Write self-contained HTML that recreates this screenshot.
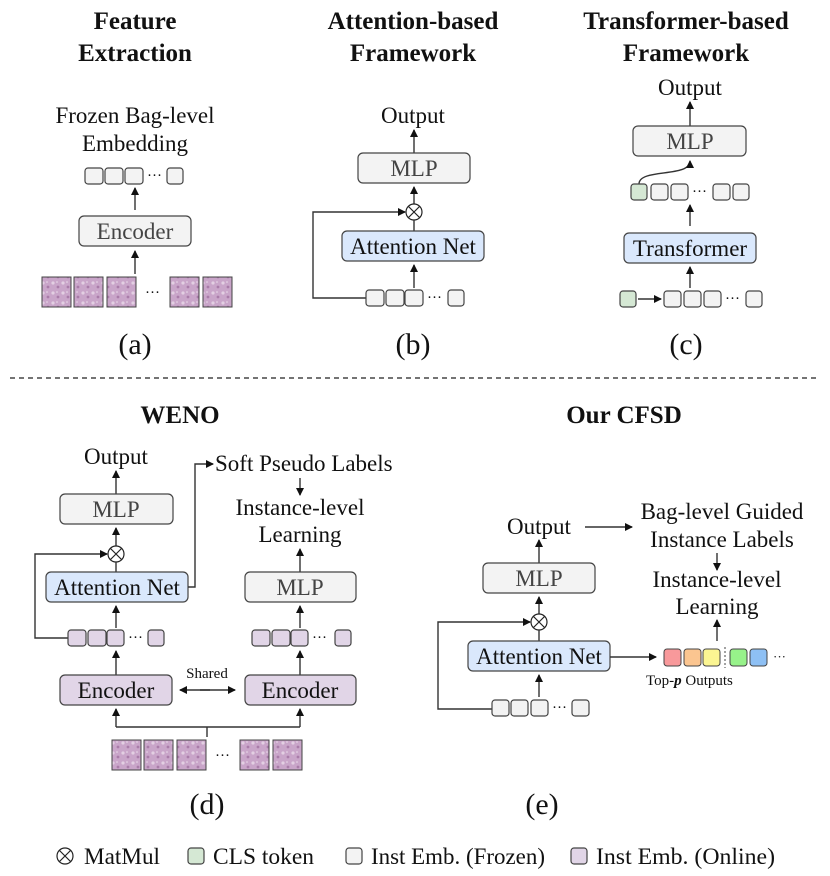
<!DOCTYPE html>
<html><head><meta charset="utf-8"><style>
html,body{margin:0;padding:0;background:#fff;}
svg{display:block;}
svg text{font-family:"Liberation Serif","Times New Roman",Times,"DejaVu Serif",serif;fill:#111;}
.t{font-weight:bold;font-size:25px;text-anchor:middle;}
.l{font-size:23px;text-anchor:middle;}
.bx{font-size:23px;text-anchor:middle;fill:#444;}
.g{fill:#f3f3f3;stroke:#444;stroke-width:1.2;}
.bl{fill:#dae8fc;stroke:#444;stroke-width:1.2;}
.pu{fill:#e1d5e7;stroke:#444;stroke-width:1.2;}
.gr{fill:#d5e8d4;stroke:#444;stroke-width:1.2;}
.ln{stroke:#333;stroke-width:1.4;fill:none;}
.img{stroke:#444;stroke-width:1;}
</style></head><body>
<svg width="830" height="876" viewBox="0 0 830 876" xmlns="http://www.w3.org/2000/svg">
<defs>
<marker id="a" markerWidth="8" markerHeight="8" refX="7" refY="4" orient="auto" markerUnits="userSpaceOnUse"><path d="M0,0 L8,4 L0,8 z" fill="#111"/></marker>
<pattern id="tis" width="10" height="10" patternUnits="userSpaceOnUse"><rect width="10" height="10" fill="#c9a5c9"/><circle cx="3" cy="3" r="1.6" fill="#e3cfe3"/><circle cx="8" cy="7" r="1.4" fill="#a97ca9"/><circle cx="7" cy="2" r="0.8" fill="#eadcea"/></pattern>
</defs>

<!-- (a) -->
<text class="t" x="135" y="29">Feature</text>
<text class="t" x="135" y="61">Extraction</text>
<text class="l" x="135" y="123">Frozen Bag-level</text>
<text class="l" x="135" y="151">Embedding</text>
<rect class="g" x="85" y="168" width="18" height="16" rx="3"/>
<rect class="g" x="105" y="168" width="18" height="16" rx="3"/>
<rect class="g" x="125" y="168" width="18" height="16" rx="3"/>
<text x="147" y="180" font-size="15">···</text>
<rect class="g" x="167" y="168" width="16" height="16" rx="3"/>
<line class="ln" x1="135" y1="210" x2="135" y2="188" marker-end="url(#a)"/>
<rect class="g" x="79" y="216" width="112" height="30" rx="5"/>
<text class="bx" x="135" y="239">Encoder</text>
<line class="ln" x1="135" y1="274" x2="135" y2="251" marker-end="url(#a)"/>
<g class="img">
<rect x="42" y="277" width="29" height="30" fill="url(#tis)"/><rect x="74" y="277" width="29" height="30" fill="url(#tis)"/><rect x="107" y="277" width="29" height="30" fill="url(#tis)"/><rect x="170" y="277" width="29" height="30" fill="url(#tis)"/><rect x="203" y="277" width="29" height="30" fill="url(#tis)"/>
</g>
<text x="145" y="297" font-size="15">···</text>
<text class="l" x="135" y="354" style="font-size:30px">(a)</text>

<!-- (b) -->
<text class="t" x="413" y="29">Attention-based</text>
<text class="t" x="413" y="61">Framework</text>
<text class="l" x="413" y="123">Output</text>
<line class="ln" x1="414" y1="153" x2="414" y2="130" marker-end="url(#a)"/>
<rect class="g" x="358" y="153" width="112" height="30" rx="5"/>
<text class="bx" x="414" y="176">MLP</text>
<line class="ln" x1="414" y1="204" x2="414" y2="187" marker-end="url(#a)"/>
<circle cx="414" cy="212" r="8" fill="#fff" stroke="#222" stroke-width="1.2"/>
<path d="M408.5,206.5 L419.5,217.5 M419.5,206.5 L408.5,217.5" stroke="#222" stroke-width="1.2"/>
<line class="ln" x1="414" y1="220" x2="414" y2="231"/>
<rect class="bl" x="342" y="231" width="142" height="30" rx="5"/>
<text class="l" x="413" y="254">Attention Net</text>
<line class="ln" x1="414" y1="288" x2="414" y2="265" marker-end="url(#a)"/>
<polyline class="ln" points="366,298 313,298 313,212 405,212" marker-end="url(#a)"/>
<rect class="g" x="366" y="290" width="18" height="16" rx="3"/>
<rect class="g" x="386" y="290" width="18" height="16" rx="3"/>
<rect class="g" x="405" y="290" width="18" height="16" rx="3"/>
<text x="427" y="302" font-size="15">···</text>
<rect class="g" x="448" y="290" width="16" height="16" rx="3"/>
<text class="l" x="413" y="354" style="font-size:30px">(b)</text>

<!-- (c) -->
<text class="t" x="686" y="29">Transformer-based</text>
<text class="t" x="686" y="61">Framework</text>
<text class="l" x="690" y="95">Output</text>
<line class="ln" x1="690" y1="126" x2="690" y2="102" marker-end="url(#a)"/>
<rect class="g" x="633" y="126" width="113" height="30" rx="5"/>
<text class="bx" x="690" y="149">MLP</text>
<path class="ln" d="M639,184 C639,168 690,178 690,161" marker-end="url(#a)"/>
<rect class="gr" x="631" y="184" width="16" height="16" rx="3"/>
<rect class="g" x="651" y="184" width="17" height="16" rx="3"/>
<rect class="g" x="671" y="184" width="17" height="16" rx="3"/>
<text x="692" y="196" font-size="15">···</text>
<rect class="g" x="713" y="184" width="17" height="16" rx="3"/>
<rect class="g" x="733" y="184" width="16" height="16" rx="3"/>
<line class="ln" x1="690" y1="226" x2="690" y2="205" marker-end="url(#a)"/>
<rect class="bl" x="624" y="233" width="132" height="30" rx="5"/>
<text class="l" x="690" y="256">Transformer</text>
<line class="ln" x1="690" y1="288" x2="690" y2="267" marker-end="url(#a)"/>
<rect class="gr" x="620" y="291" width="16" height="16" rx="3"/>
<line class="ln" x1="638" y1="299" x2="661" y2="299" marker-end="url(#a)"/>
<rect class="g" x="664" y="291" width="17" height="16" rx="3"/>
<rect class="g" x="684" y="291" width="17" height="16" rx="3"/>
<rect class="g" x="704" y="291" width="17" height="16" rx="3"/>
<text x="725" y="303" font-size="15">···</text>
<rect class="g" x="746" y="291" width="16" height="16" rx="3"/>
<text class="l" x="686" y="354" style="font-size:30px">(c)</text>

<line x1="10" y1="378" x2="820" y2="378" stroke="#222" stroke-width="1.3" stroke-dasharray="5,4"/>

<!-- (d) -->
<text class="t" x="180" y="423">WENO</text>
<text class="l" x="116" y="464">Output</text>
<line class="ln" x1="116" y1="494" x2="116" y2="471" marker-end="url(#a)"/>
<rect class="g" x="60" y="494" width="113" height="30" rx="5"/>
<text class="bx" x="116" y="517">MLP</text>
<line class="ln" x1="116" y1="546" x2="116" y2="528" marker-end="url(#a)"/>
<circle cx="116" cy="554" r="8" fill="#fff" stroke="#222" stroke-width="1.2"/>
<path d="M110.5,548.5 L121.5,559.5 M121.5,548.5 L110.5,559.5" stroke="#222" stroke-width="1.2"/>
<line class="ln" x1="116" y1="562" x2="116" y2="572"/>
<rect class="bl" x="46" y="572" width="142" height="30" rx="5"/>
<text class="l" x="117" y="595">Attention Net</text>
<polyline class="ln" points="188,587 195,587 195,464 213,464" marker-end="url(#a)"/>
<text x="215" y="471" style="font-size:23px">Soft Pseudo Labels</text>
<line class="ln" x1="300" y1="478" x2="300" y2="495" marker-end="url(#a)"/>
<text class="l" x="300" y="515">Instance-level</text>
<text class="l" x="300" y="542">Learning</text>
<line class="ln" x1="300" y1="572" x2="300" y2="549" marker-end="url(#a)"/>
<rect class="g" x="245" y="572" width="111" height="30" rx="5"/>
<text class="bx" x="300" y="595">MLP</text>
<line class="ln" x1="116" y1="628" x2="116" y2="606" marker-end="url(#a)"/>
<line class="ln" x1="300" y1="628" x2="300" y2="606" marker-end="url(#a)"/>
<polyline class="ln" points="68,638 35,638 35,554 107,554" marker-end="url(#a)"/>
<rect class="pu" x="68" y="630" width="18" height="16" rx="3"/>
<rect class="pu" x="88" y="630" width="18" height="16" rx="3"/>
<rect class="pu" x="107" y="630" width="17" height="16" rx="3"/>
<text x="128" y="642" font-size="15">···</text>
<rect class="pu" x="148" y="630" width="16" height="16" rx="3"/>
<rect class="pu" x="252" y="630" width="18" height="16" rx="3"/>
<rect class="pu" x="272" y="630" width="18" height="16" rx="3"/>
<rect class="pu" x="291" y="630" width="17" height="16" rx="3"/>
<text x="312" y="642" font-size="15">···</text>
<rect class="pu" x="335" y="630" width="16" height="16" rx="3"/>
<line class="ln" x1="116" y1="675" x2="116" y2="651" marker-end="url(#a)"/>
<line class="ln" x1="300" y1="675" x2="300" y2="651" marker-end="url(#a)"/>
<rect class="pu" x="60" y="675" width="112" height="30" rx="5"/>
<text class="l" x="116" y="698">Encoder</text>
<rect class="pu" x="245" y="675" width="111" height="30" rx="5"/>
<text class="l" x="300" y="698">Encoder</text>
<text x="207" y="678" style="font-size:15px;text-anchor:middle">Shared</text>
<line class="ln" x1="200" y1="690" x2="235" y2="690" marker-end="url(#a)"/>
<line class="ln" x1="210" y1="690" x2="180" y2="690" marker-end="url(#a)"/>
<polyline class="ln" points="116,727 300,727"/>
<line class="ln" x1="116" y1="727" x2="116" y2="709" marker-end="url(#a)"/>
<line class="ln" x1="300" y1="727" x2="300" y2="709" marker-end="url(#a)"/>
<line class="ln" x1="207" y1="727" x2="207" y2="737"/>
<g class="img">
<rect x="112" y="740" width="29" height="30" fill="url(#tis)"/><rect x="144" y="740" width="29" height="30" fill="url(#tis)"/><rect x="177" y="740" width="29" height="30" fill="url(#tis)"/><rect x="240" y="740" width="29" height="30" fill="url(#tis)"/><rect x="273" y="740" width="29" height="30" fill="url(#tis)"/>
</g>
<text x="215" y="760" font-size="15">···</text>
<text class="l" x="207" y="814" style="font-size:30px">(d)</text>

<!-- (e) -->
<text class="t" x="624" y="423">Our CFSD</text>
<text class="l" x="539" y="534">Output</text>
<line class="ln" x1="585" y1="527" x2="632" y2="527" marker-end="url(#a)"/>
<text class="l" x="722" y="519">Bag-level Guided</text>
<text class="l" x="722" y="547">Instance Labels</text>
<line class="ln" x1="717" y1="553" x2="717" y2="570" marker-end="url(#a)"/>
<text class="l" x="717" y="587">Instance-level</text>
<text class="l" x="717" y="614">Learning</text>
<line class="ln" x1="717" y1="641" x2="717" y2="620" marker-end="url(#a)"/>
<line class="ln" x1="539" y1="563" x2="539" y2="540" marker-end="url(#a)"/>
<rect class="g" x="483" y="563" width="112" height="30" rx="5"/>
<text class="bx" x="539" y="586">MLP</text>
<line class="ln" x1="539" y1="614" x2="539" y2="597" marker-end="url(#a)"/>
<circle cx="539" cy="622" r="8" fill="#fff" stroke="#222" stroke-width="1.2"/>
<path d="M533.5,616.5 L544.5,627.5 M544.5,616.5 L533.5,627.5" stroke="#222" stroke-width="1.2"/>
<line class="ln" x1="539" y1="630" x2="539" y2="641"/>
<rect class="bl" x="468" y="641" width="142" height="30" rx="5"/>
<text class="l" x="539" y="664">Attention Net</text>
<line class="ln" x1="610" y1="657" x2="656" y2="657" marker-end="url(#a)"/>
<rect x="664" y="649" width="17" height="17" rx="3" fill="#f8999b" stroke="#444"/>
<rect x="684" y="649" width="17" height="17" rx="3" fill="#fbc590" stroke="#444"/>
<rect x="703" y="649" width="17" height="17" rx="3" fill="#fbf592" stroke="#444"/>
<line x1="725" y1="647" x2="725" y2="668" stroke="#444" stroke-dasharray="2,2"/>
<rect x="730" y="649" width="17" height="17" rx="3" fill="#97f28a" stroke="#444"/>
<rect x="750" y="649" width="17" height="17" rx="3" fill="#8ec0f4" stroke="#444"/>
<text x="773" y="661" font-size="13" fill="#555">···</text>
<text x="646" y="685" style="font-size:15px">Top-<tspan font-style="italic" font-weight="bold">p</tspan> Outputs</text>
<line class="ln" x1="539" y1="697" x2="539" y2="675" marker-end="url(#a)"/>
<polyline class="ln" points="492,709 438,709 438,622 530,622" marker-end="url(#a)"/>
<rect class="g" x="492" y="700" width="17" height="16" rx="3"/>
<rect class="g" x="511" y="700" width="17" height="16" rx="3"/>
<rect class="g" x="531" y="700" width="17" height="16" rx="3"/>
<text x="552" y="712" font-size="15">···</text>
<rect class="g" x="572" y="700" width="17" height="16" rx="3"/>
<text class="l" x="542" y="814" style="font-size:30px">(e)</text>

<!-- legend -->
<circle cx="65" cy="856" r="8" fill="#fff" stroke="#222" stroke-width="1.2"/>
<path d="M59.5,850.5 L70.5,861.5 M70.5,850.5 L59.5,861.5" stroke="#222" stroke-width="1.2"/>
<text x="84" y="864" style="font-size:23px" textLength="76" lengthAdjust="spacingAndGlyphs">MatMul</text>
<rect class="gr" x="188" y="848" width="16" height="16" rx="3"/>
<text x="213" y="864" style="font-size:23px" textLength="101" lengthAdjust="spacingAndGlyphs">CLS token</text>
<rect class="g" x="346" y="848" width="16" height="16" rx="3"/>
<text x="371" y="864" style="font-size:23px" textLength="174" lengthAdjust="spacingAndGlyphs">Inst Emb. (Frozen)</text>
<rect class="pu" x="571" y="848" width="16" height="16" rx="3"/>
<text x="596" y="864" style="font-size:23px" textLength="179" lengthAdjust="spacingAndGlyphs">Inst Emb. (Online)</text>
</svg>
</body></html>
